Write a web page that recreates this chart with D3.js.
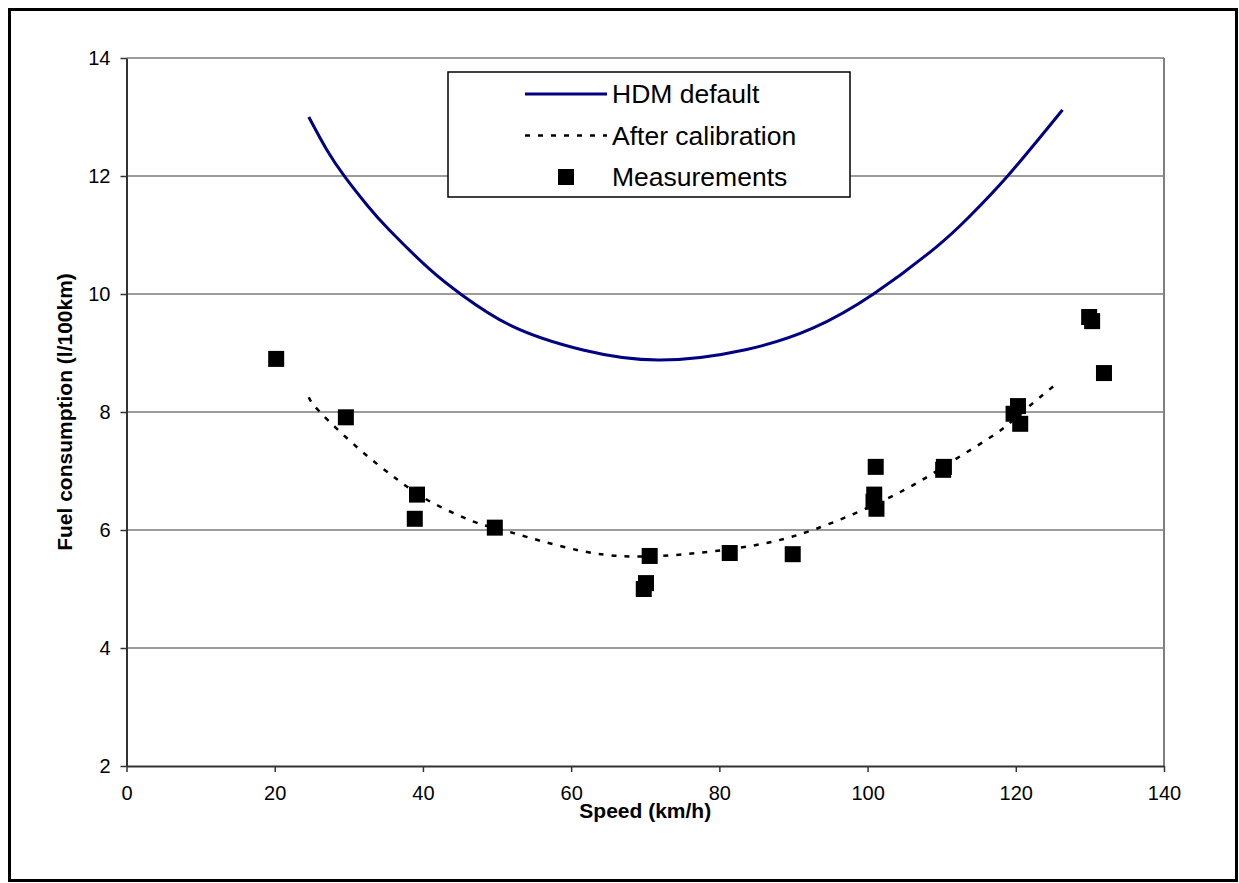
<!DOCTYPE html>
<html>
<head>
<meta charset="utf-8">
<script src="https://cdn.jsdelivr.net/npm/d3@7"></script>
<style>
  body { margin: 0; background: #fff; }
  svg text { font-family: "Liberation Sans", Arial, sans-serif; fill: #000; }
</style>
</head>
<body>
<div id="chart"></div>
<script>
// HDM default curve
var hdmSpeed = [24.6, 27, 29.5, 32.5, 35.5, 40.9, 45.3, 52.1, 61.6, 72, 83.7, 92.6, 100.8, 109.3, 113.8, 118.9, 126.3];
var hdmFuel  = [13.0, 12.45, 11.98, 11.5, 11.08, 10.42, 9.98, 9.45, 9.05, 8.88, 9.06, 9.42, 10.0, 10.8, 11.32, 12.0, 13.12];

// After calibration curve
var calSpeed = [24.6, 26.1, 31.5, 36.5, 41.3, 47.3, 50.8, 61.6, 72, 82.8, 92.6, 103.9, 111.1, 117.4, 120.9, 125.6];
var calFuel  = [8.25, 8.0, 7.36, 6.86, 6.46, 6.12, 6.0, 5.64, 5.56, 5.7, 6.0, 6.61, 7.14, 7.64, 8.0, 8.49];

// Measurements
var measSpeed = [20.2, 29.6, 39.2, 38.9, 49.7, 70.6, 70.1, 69.8, 81.4, 89.9, 101.1, 100.9, 100.8, 101.2, 110.3, 110.2, 120.3, 119.7, 120.6, 129.9, 130.3, 131.9];
var measFuel  = [8.9, 7.91, 6.6, 6.19, 6.04, 5.56, 5.1, 5.0, 5.61, 5.59, 7.07, 6.6, 6.48, 6.36, 7.07, 7.02, 8.1, 7.97, 7.8, 9.61, 9.54, 8.66];

var xTicks = [0, 20, 40, 60, 80, 100, 120, 140];
var yTicks = [2, 4, 6, 8, 10, 12, 14];

var legendLabels = ['HDM default', 'After calibration', 'Measurements'];

var W = 1239, H = 883;
var svg = d3.select('#chart').append('svg')
    .attr('width', W)
    .attr('height', H);

// outer frame
svg.append('rect')
    .attr('x', 9.5).attr('y', 9.5)
    .attr('width', W - 12).attr('height', H - 12)
    .attr('fill', 'none')
    .attr('stroke', '#000')
    .attr('stroke-width', 3);

var x = d3.scaleLinear().domain([0, 140]).range([126.5, 1164]);
var y = d3.scaleLinear().domain([2, 14]).range([766, 58]);

// gridlines
svg.append('g')
    .selectAll('line')
    .data(yTicks.filter(function(d) { return d > 2; }))
    .enter().append('line')
    .attr('x1', x(0)).attr('x2', x(140))
    .attr('y1', function(d) { return y(d); })
    .attr('y2', function(d) { return y(d); })
    .attr('stroke', '#7a7a7a')
    .attr('stroke-width', 1.5);

// right border
svg.append('line')
    .attr('x1', x(140)).attr('x2', x(140))
    .attr('y1', y(14)).attr('y2', y(2))
    .attr('stroke', '#808080')
    .attr('stroke-width', 2);

// axes
var xAxis = svg.append('g')
    .attr('transform', 'translate(0,' + y(2) + ')')
    .call(d3.axisBottom(x).tickValues(xTicks).tickSize(6).tickSizeOuter(0).tickPadding(14));

var yAxis = svg.append('g')
    .attr('transform', 'translate(' + x(0) + ',0)')
    .call(d3.axisLeft(y).tickValues(yTicks).tickSize(6).tickSizeOuter(0).tickPadding(10));

[xAxis, yAxis].forEach(function(a) {
    a.select('.domain').attr('stroke', '#333').attr('stroke-width', 2);
    a.selectAll('.tick line').attr('stroke', '#333').attr('stroke-width', 1.5);
    a.selectAll('.tick text')
        .style('font-family', '"Liberation Sans", Arial, sans-serif')
        .style('font-size', '20px')
        .attr('fill', '#000');
});

// axis titles
svg.append('text')
    .attr('x', (x(0) + x(140)) / 2)
    .attr('y', 818)
    .attr('text-anchor', 'middle')
    .style('font-size', '21px')
    .style('font-weight', 'bold')
    .text('Speed (km/h)');

svg.append('text')
    .attr('transform', 'translate(72,' + (y(2) + y(14)) / 2 + ') rotate(-90)')
    .attr('text-anchor', 'middle')
    .style('font-size', '21px')
    .style('font-weight', 'bold')
    .text('Fuel consumption (l/100km)');

// lines
var line = d3.line()
    .x(function(d) { return x(d[0]); })
    .y(function(d) { return y(d[1]); })
    .curve(d3.curveNatural);

svg.append('path')
    .datum(d3.zip(hdmSpeed, hdmFuel))
    .attr('d', line)
    .attr('fill', 'none')
    .attr('stroke', '#000080')
    .attr('stroke-width', 3);

svg.append('path')
    .datum(d3.zip(calSpeed, calFuel))
    .attr('d', line)
    .attr('fill', 'none')
    .attr('stroke', '#000')
    .attr('stroke-width', 2.5)
    .attr('stroke-dasharray', '5,8');

// measurement markers
var ms = 16;
svg.append('g')
    .selectAll('rect')
    .data(d3.zip(measSpeed, measFuel))
    .enter().append('rect')
    .attr('x', function(d) { return x(d[0]) - ms / 2; })
    .attr('y', function(d) { return y(d[1]) - ms / 2; })
    .attr('width', ms)
    .attr('height', ms)
    .attr('fill', '#000');

// legend
var lg = svg.append('g');
lg.append('rect')
    .attr('x', 448).attr('y', 72)
    .attr('width', 402).attr('height', 125)
    .attr('fill', '#fff')
    .attr('stroke', '#000')
    .attr('stroke-width', 1.5);

var rowY = [94, 135.5, 177];
lg.append('line')
    .attr('x1', 525).attr('x2', 607)
    .attr('y1', rowY[0]).attr('y2', rowY[0])
    .attr('stroke', '#000080').attr('stroke-width', 3);
lg.append('line')
    .attr('x1', 525).attr('x2', 607)
    .attr('y1', rowY[1]).attr('y2', rowY[1])
    .attr('stroke', '#000').attr('stroke-width', 2.5)
    .attr('stroke-dasharray', '5,8');
lg.append('rect')
    .attr('x', 566 - ms / 2).attr('y', rowY[2] - ms / 2)
    .attr('width', ms).attr('height', ms)
    .attr('fill', '#000');

lg.selectAll('text.lab')
    .data(legendLabels)
    .enter().append('text')
    .attr('class', 'lab')
    .attr('x', 612)
    .attr('y', function(d, i) { return rowY[i]; })
    .attr('dy', '0.35em')
    .style('font-size', '26.5px')
    .text(function(d) { return d; });
</script>
</body>
</html>
